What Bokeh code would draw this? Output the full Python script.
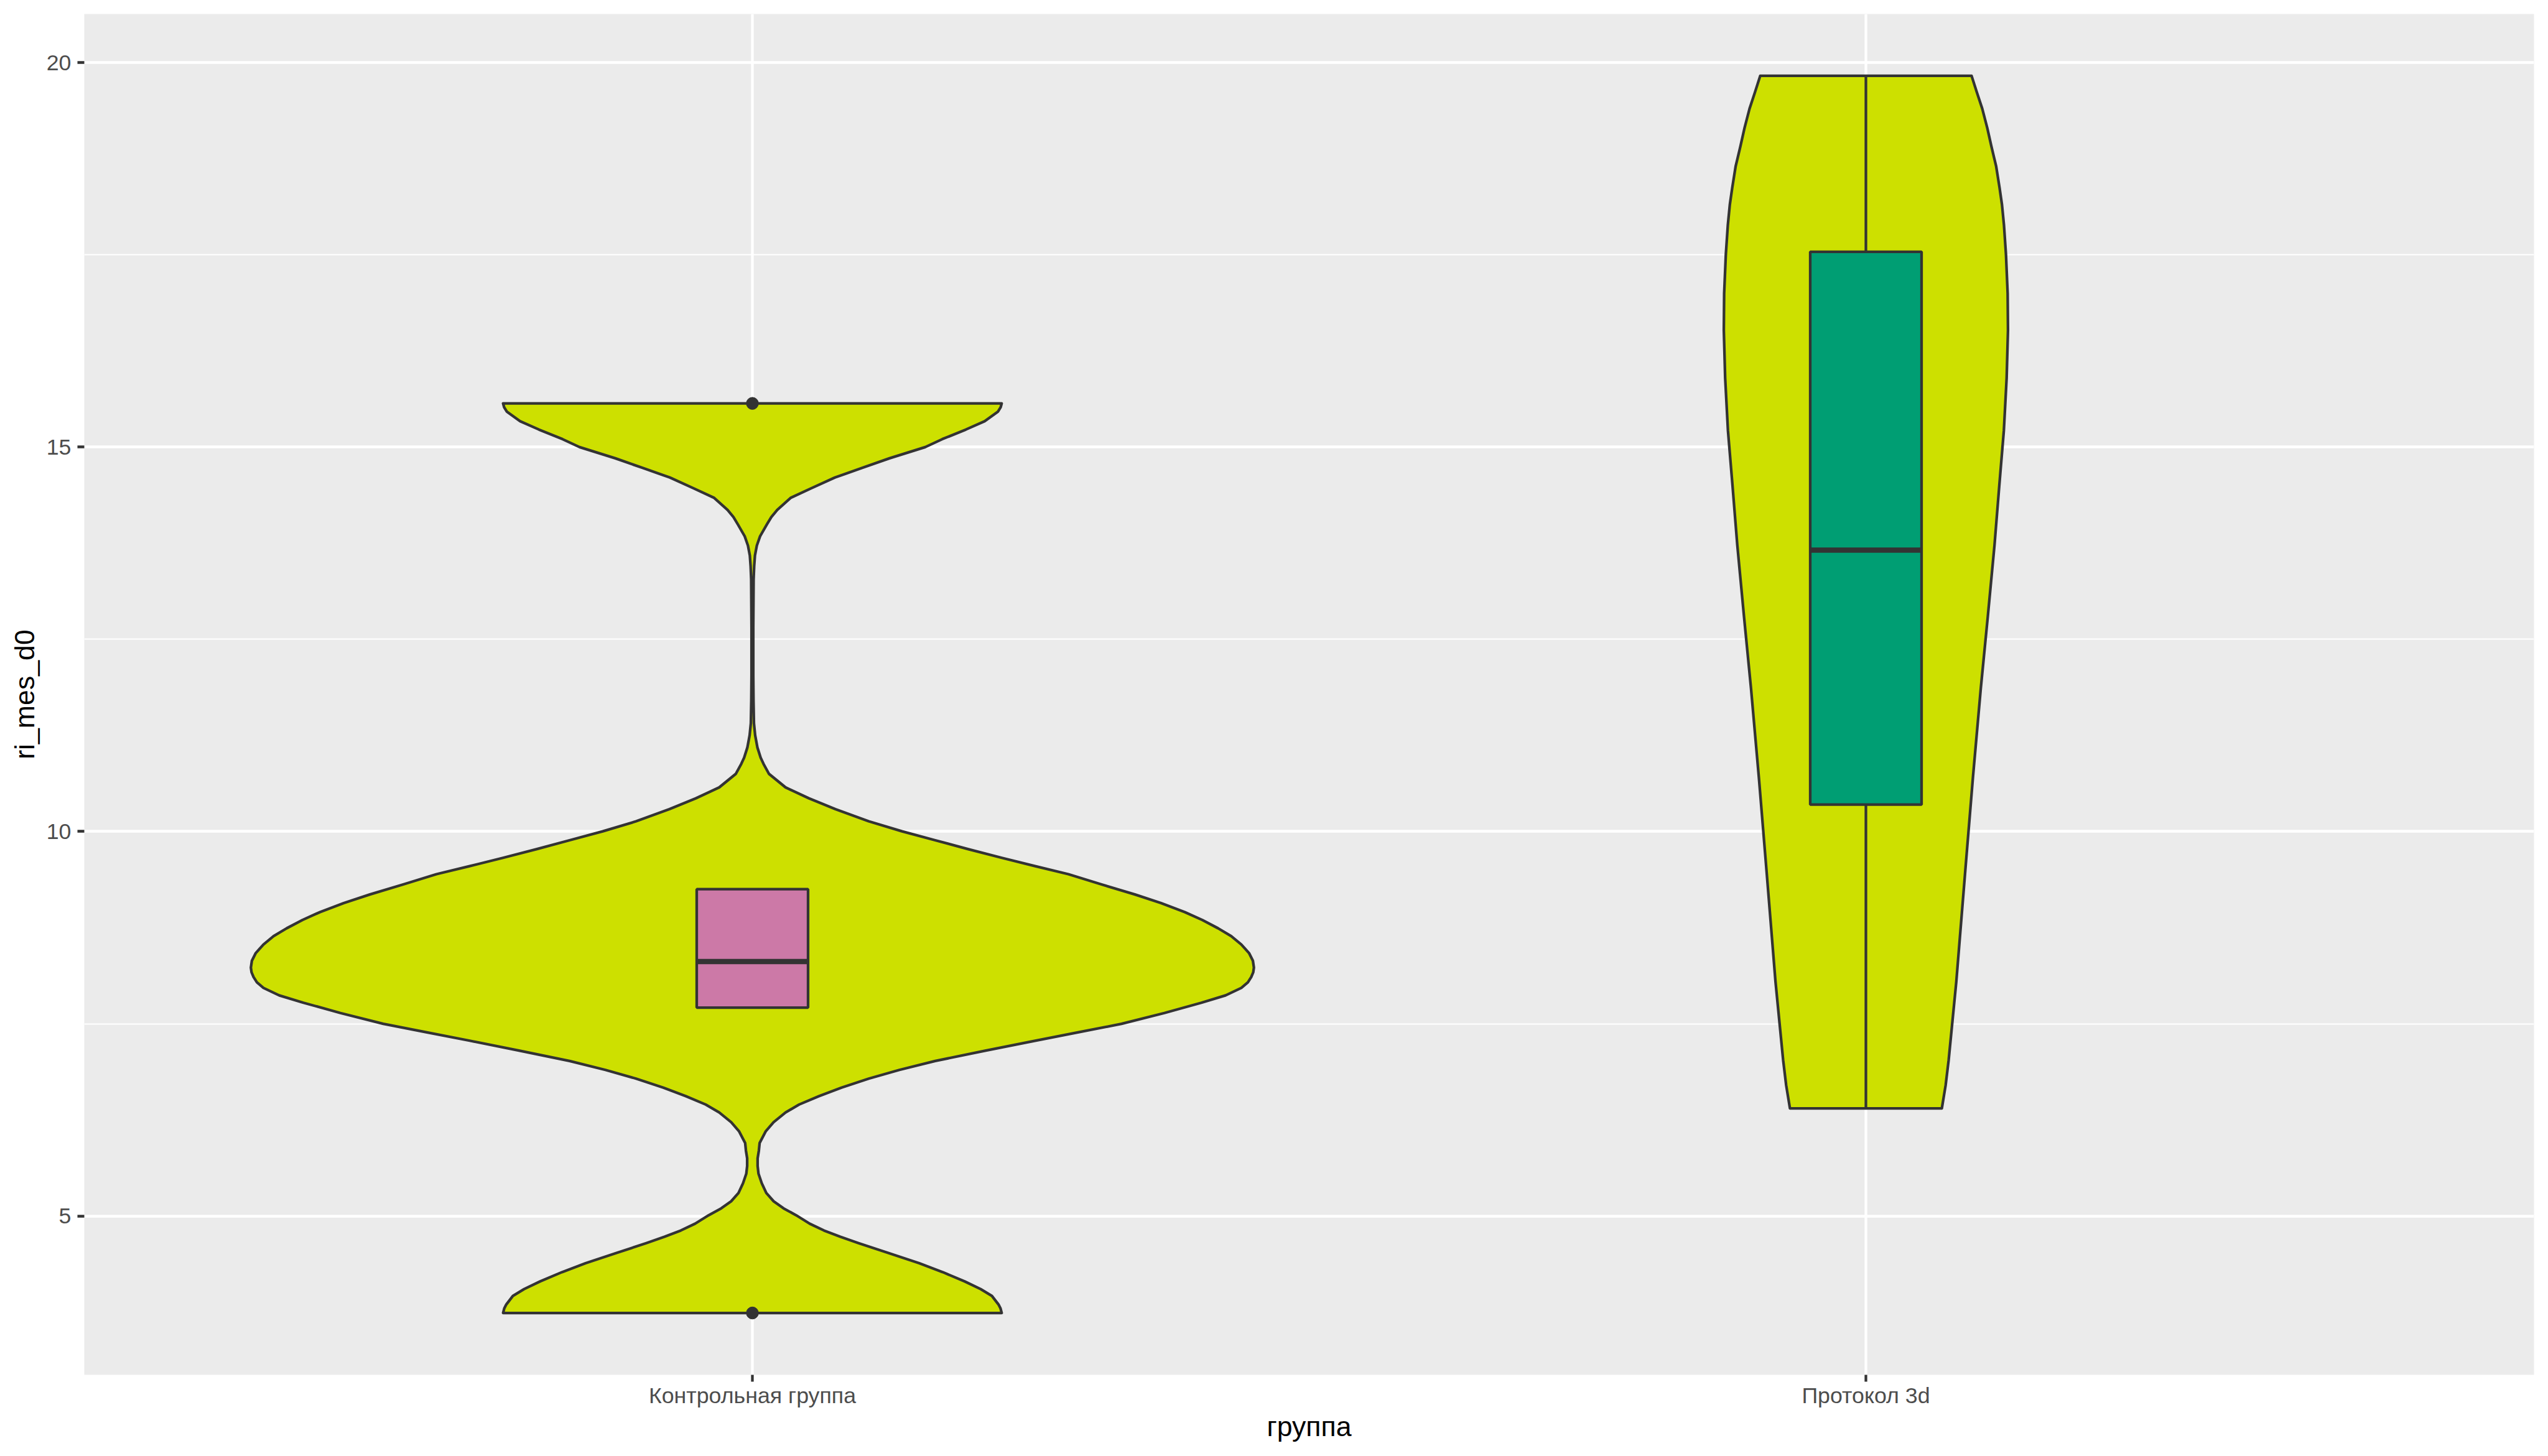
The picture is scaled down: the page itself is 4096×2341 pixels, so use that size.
from bokeh.plotting import figure
from bokeh.models import Range1d, FixedTicker, ColumnDataSource
from bokeh.embed import file_html
from bokeh.resources import INLINE

# ---------------- data ----------------
categories = ["Контрольная группа", "Протокол 3d"]
cat_pos = [1, 2]

# violin outlines: value (y) and half-width (in x-axis units, scaled density)
ctrl_violin_y = [3.739, 3.80, 3.85, 3.961, 4.05, 4.15, 4.27, 4.386, 4.52, 4.647,
                 4.73, 4.812, 4.90, 5.011, 5.10, 5.191, 5.30, 5.427, 5.55, 5.65,
                 5.75, 5.85, 5.95, 6.10, 6.22, 6.347, 6.45, 6.558, 6.67, 6.787,
                 6.90, 7.016, 7.15, 7.28, 7.39, 7.499, 7.64, 7.774, 7.87, 7.967,
                 8.04, 8.108, 8.17, 8.231, 8.319, 8.42, 8.531, 8.64, 8.742, 8.85,
                 8.953, 9.07, 9.182, 9.31, 9.446, 9.55, 9.658, 9.77, 9.887, 10.003,
                 10.133, 10.292, 10.433, 10.574, 10.75, 10.88, 10.961, 11.094, 11.25, 11.407,
                 11.7, 12.03, 12.654, 13.278, 13.45, 13.59, 13.72, 13.84, 13.996, 14.09,
                 14.183, 14.339, 14.464, 14.604, 14.729, 14.854, 15.0, 15.103, 15.228, 15.337,
                 15.462, 15.52, 15.568]
ctrl_violin_hw = [0.2239, 0.2228, 0.2210, 0.2151, 0.2050, 0.1906, 0.1710, 0.1498, 0.1220, 0.0953,
                  0.0790, 0.0643, 0.0515, 0.0392, 0.0280, 0.0191, 0.0125, 0.0084, 0.0055, 0.0047,
                  0.0047, 0.0058, 0.0065, 0.0119, 0.0190, 0.0298, 0.0420, 0.0597, 0.0800, 0.1045,
                  0.1320, 0.1642, 0.2090, 0.2539, 0.2930, 0.3315, 0.3700, 0.4032, 0.4250, 0.4391,
                  0.4450, 0.4480, 0.4498, 0.4504, 0.4495, 0.4460, 0.4391, 0.4300, 0.4182, 0.4040,
                  0.3883, 0.3670, 0.3435, 0.3140, 0.2837, 0.2540, 0.2240, 0.1940, 0.1642, 0.1344,
                  0.1045, 0.0746, 0.0507, 0.0298, 0.0149, 0.0100, 0.0074, 0.0045, 0.0025, 0.0014,
                  0.0010, 0.0008, 0.0008, 0.0011, 0.0016, 0.0023, 0.0040, 0.0069, 0.0131, 0.0170,
                  0.0223, 0.0343, 0.0528, 0.0741, 0.0986, 0.1231, 0.1552, 0.1705, 0.1917, 0.2086,
                  0.2206, 0.2230, 0.2239]

prot_violin_y = [6.399, 6.7, 7.025, 8.049, 9.5, 10.7, 11.865, 12.8, 13.726, 14.5,
                 15.216, 15.9, 16.519, 17.0, 17.504, 17.887, 18.154, 18.376, 18.65, 18.911,
                 19.15, 19.401, 19.62, 19.828]
prot_violin_hw = [0.0682, 0.0716, 0.0743, 0.0812, 0.0893, 0.0961, 0.1032, 0.1095, 0.1155, 0.1198,
                  0.1239, 0.1264, 0.1276, 0.1273, 0.1258, 0.1240, 0.1222, 0.1200, 0.1170, 0.1127,
                  0.1090, 0.1045, 0.0995, 0.0949]

# boxplot statistics
box_q1 = [7.71, 10.35]
box_median = [8.31, 13.66]
box_q3 = [9.25, 17.54]
whisker_low = [7.71, 6.40]
whisker_high = [9.25, 19.83]
box_colors = ["#CC79A7", "#009E73"]
outlier_cat = [1, 1]
outlier_y = [3.739, 15.568]

y_ticks = [5, 10, 15, 20]
y_minor = [7.5, 12.5, 17.5]

# ---------------- styling ----------------
S = 0.975
FONT = "Liberation Sans"
VIOLIN_FILL = "#CDE000"
DARK = "#333333"
LW = 4.4 * S
BOX_HALF = 0.05

all_y = ctrl_violin_y + prot_violin_y
ylo, yhi = min(all_y), max(all_y)
pad = 0.05 * (yhi - ylo)

p = figure(width=4095, height=2340,
           x_range=Range1d(0.4, 2.6), y_range=Range1d(ylo - pad, yhi + pad),
           output_backend="svg", toolbar_location=None,
           min_border_left=135, min_border_right=22, min_border_top=22, min_border_bottom=130)

p.background_fill_color = "#EBEBEB"
p.border_fill_color = "white"
p.outline_line_color = None

# grid
p.xaxis.ticker = FixedTicker(ticks=cat_pos)
p.yaxis.ticker = FixedTicker(ticks=y_ticks, minor_ticks=y_minor)
p.xgrid.grid_line_color = "white"
p.xgrid.grid_line_width = LW
p.ygrid.grid_line_color = "white"
p.ygrid.grid_line_width = LW
p.ygrid.minor_grid_line_color = "white"
p.ygrid.minor_grid_line_width = LW / 2

# axes
p.xaxis.major_label_overrides = {pos: lab for pos, lab in zip(cat_pos, categories)}
for ax in (p.xaxis[0], p.yaxis[0]):
    ax.axis_line_color = None
    ax.major_tick_line_color = DARK
    ax.major_tick_line_width = LW
    ax.major_tick_out = 11
    ax.major_tick_in = 0
    ax.minor_tick_line_color = None
    ax.major_label_text_font = FONT
    ax.major_label_text_font_size = f"{8.8 * 300 / 72 * S:.2f}px"
    ax.major_label_text_color = "#4D4D4D"
    ax.axis_label_text_font = FONT
    ax.axis_label_text_font_size = f"{11 * 300 / 72 * S:.2f}px"
    ax.axis_label_text_font_style = "normal"
    ax.axis_label_text_color = "black"

p.xaxis.axis_label = "группа"
p.yaxis.axis_label = "ri_mes_d0"
p.yaxis.major_label_standoff = 10
p.yaxis.axis_label_standoff = 8
p.xaxis.major_label_standoff = 2
p.xaxis.axis_label_standoff = 2

# violins
vx, vy = [], []
for c, ys, hws in ((cat_pos[0], ctrl_violin_y, ctrl_violin_hw),
                   (cat_pos[1], prot_violin_y, prot_violin_hw)):
    xs = [c - h for h in hws] + [c + h for h in reversed(hws)]
    yy = list(ys) + list(reversed(ys))
    vx.append(xs)
    vy.append(yy)
p.patches(xs=vx, ys=vy, fill_color=VIOLIN_FILL, line_color=DARK, line_width=LW,
          line_join="round")

# whiskers
p.segment(x0=cat_pos, y0=box_q3, x1=cat_pos, y1=whisker_high, line_color=DARK, line_width=LW)
p.segment(x0=cat_pos, y0=box_q1, x1=cat_pos, y1=whisker_low, line_color=DARK, line_width=LW)

# boxes
src = ColumnDataSource(dict(left=[c - BOX_HALF for c in cat_pos],
                            right=[c + BOX_HALF for c in cat_pos],
                            bottom=box_q1, top=box_q3, color=box_colors))
p.quad(left="left", right="right", bottom="bottom", top="top", fill_color="color",
       line_color=DARK, line_width=LW, source=src)

# medians
p.segment(x0=[c - BOX_HALF for c in cat_pos], y0=box_median,
          x1=[c + BOX_HALF for c in cat_pos], y1=box_median,
          line_color=DARK, line_width=2 * LW)

# outliers
p.scatter(x=outlier_cat, y=outlier_y, size=19.5, color=DARK)

open("out.html", "w").write(file_html(p, INLINE))
